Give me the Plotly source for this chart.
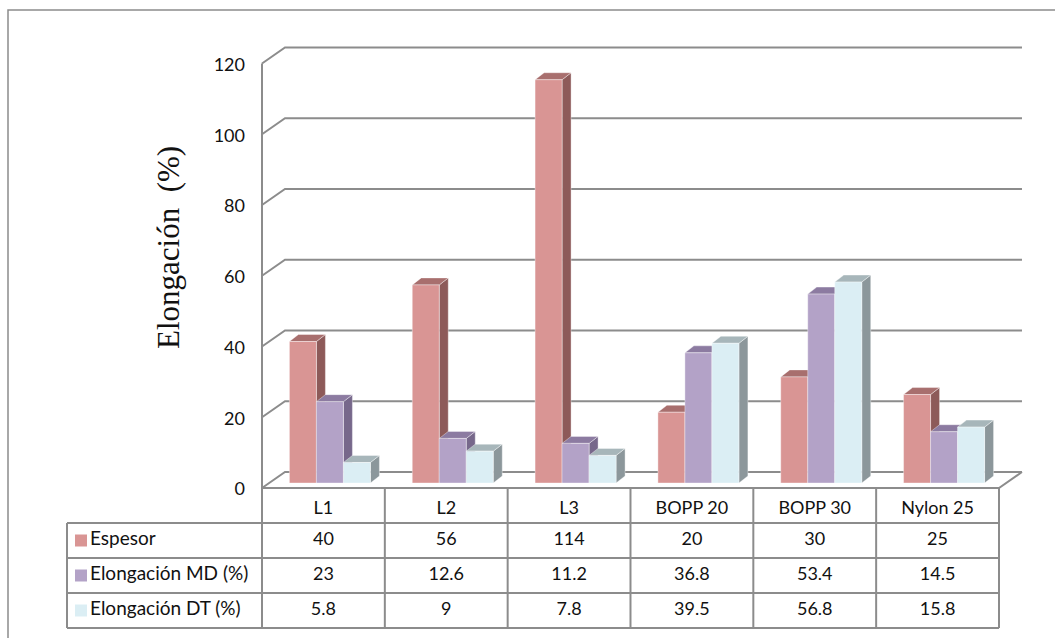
import plotly.graph_objects as go

# ---- data ----
categories = ["L1", "L2", "L3", "BOPP 20", "BOPP 30", "Nylon 25"]
espesor = [40, 56, 114, 20, 30, 25]
elong_md = [23, 12.6, 11.2, 36.8, 53.4, 14.5]
elong_dt = [5.8, 9, 7.8, 39.5, 56.8, 15.8]
series_names = ["Espesor", "Elongación MD (%)", "Elongación DT (%)"]
y_ticks = [0, 20, 40, 60, 80, 100, 120]

series_values = [espesor, elong_md, elong_dt]

# ---- styling ----
front_colors = ["#D99594", "#B3A2C7", "#DBEEF4"]
top_colors = ["#A86F6E", "#8C7BA1", "#A7B6BA"]
side_colors = ["#8D5A59", "#77688B", "#8C979B"]
grid_color = "#8C8C8C"
label_font = dict(family="Lato, 'Open Sans', sans-serif", size=18, color="#111111")
legend_font = dict(family="Lato, 'Open Sans', sans-serif", size=19, color="#111111")

W, H = 1055, 638
X0 = 262            # front-left corner of the plot box (px)
CAT_W = 122.83      # width of one category (px)
Y0 = 488            # value 0 on the front plane (px from top)
PX_UNIT = 3.5375    # px per value unit

n_cat = len(categories)
x_range = [-X0 / CAT_W, (W - X0) / CAT_W]
y_range = [-(H - Y0) / PX_UNIT, Y0 / PX_UNIT]

# projected depth of the walls and bars, in axis units
WALL_DX, WALL_DY = 23 / CAT_W, 16 / PX_UNIT
BAR_W = 27 / CAT_W
BAR_DX, BAR_DY = 9 / CAT_W, 7 / PX_UNIT
SHIFT_X, SHIFT_Y = 6.5 / CAT_W, 5 / PX_UNIT

# table rows (y2 axis, one unit per row)
ROW_H = 35
TABLE_TOP = 488
y2_range = [(H - TABLE_TOP) / ROW_H, -TABLE_TOP / ROW_H]
LEGEND_COL_X = (67 - X0) / CAT_W

fig = go.Figure()


def line_trace(xs, ys, width=2, color=grid_color, yaxis="y"):
    return go.Scatter(x=xs, y=ys, mode="lines", yaxis=yaxis,
                      line=dict(color=color, width=width),
                      hoverinfo="skip", showlegend=False)


# ---- walls: back gridlines, left side diagonals, floor ----
gx, gy = [], []
for v in y_ticks:
    gx += [0, WALL_DX, n_cat + WALL_DX, None]
    gy += [v, v + WALL_DY, v + WALL_DY, None]
gx += [0, 0, None, 0, n_cat, n_cat + WALL_DX, None]
gy += [0, y_ticks[-1], None, 0, 0, WALL_DY, None]
fig.add_trace(line_trace(gx, gy))

# ---- 3D bars ----
for k, vals in enumerate(series_values):
    fx, fy, tx, ty, sx, sy = [], [], [], [], [], []
    for i, v in enumerate(vals):
        left = i + 0.5 - 1.5 * BAR_W + k * BAR_W + SHIFT_X
        right = left + BAR_W
        base = SHIFT_Y
        top = SHIFT_Y + v
        fx += [left, right, right, left, left, None]
        fy += [base, base, top, top, base, None]
        tx += [left, left + BAR_DX, right + BAR_DX, right, left, None]
        ty += [top, top + BAR_DY, top + BAR_DY, top, top, None]
        sx += [right, right + BAR_DX, right + BAR_DX, right, right, None]
        sy += [base, base + BAR_DY, top + BAR_DY, top, base, None]
    for xs, ys, col in ((sx, sy, side_colors[k]), (tx, ty, top_colors[k]),
                        (fx, fy, front_colors[k])):
        fig.add_trace(go.Scatter(x=xs, y=ys, mode="lines", fill="toself",
                                 fillcolor=col,
                                 line=dict(color="rgba(255,255,255,0.55)", width=0.7),
                                 hoverinfo="skip", showlegend=False,
                                 name=series_names[k]))

# ---- value axis labels ----
fig.add_trace(go.Scatter(x=[(245 - X0) / CAT_W] * len(y_ticks),
                         y=[v - 0.8 for v in y_ticks],
                         mode="text", text=[str(v) for v in y_ticks],
                         textposition="middle left", textfont=label_font,
                         hoverinfo="skip", showlegend=False))

# ---- data table ----
tx_, ty_ = [], []
for r in range(1, 5):
    tx_ += [LEGEND_COL_X, n_cat, None]
    ty_ += [r, r, None]
tx_ += [LEGEND_COL_X, LEGEND_COL_X, None]
ty_ += [1, 4, None]
for c in range(n_cat + 1):
    tx_ += [c, c, None]
    ty_ += [0, 4, None]
fig.add_trace(line_trace(tx_, ty_, width=2, yaxis="y2"))

# header row: category names
fig.add_trace(go.Scatter(x=[i + 0.5 for i in range(n_cat)], y=[0.62] * n_cat,
                         yaxis="y2", mode="text", text=categories,
                         textfont=label_font, hoverinfo="skip", showlegend=False))
# value rows
for k, vals in enumerate(series_values):
    fig.add_trace(go.Scatter(x=[i + 0.5 for i in range(n_cat)], y=[k + 1.5] * n_cat,
                             yaxis="y2", mode="text",
                             text=[f"{v:g}" for v in vals],
                             textfont=label_font, hoverinfo="skip", showlegend=False))
# legend keys in the first column
fig.add_trace(go.Scatter(x=[(81 - X0) / CAT_W] * 3, y=[1.5, 2.5, 3.5], yaxis="y2",
                         mode="markers",
                         marker=dict(symbol="square", size=12, color=front_colors,
                                     line=dict(width=0)),
                         hoverinfo="skip", showlegend=False))
fig.add_trace(go.Scatter(x=[(90 - X0) / CAT_W] * 3, y=[1.5, 2.5, 3.5], yaxis="y2",
                         mode="text", text=series_names, textposition="middle right",
                         textfont=legend_font, hoverinfo="skip", showlegend=False))

# ---- layout ----
hidden = dict(visible=False, showgrid=False, zeroline=False, fixedrange=True)
fig.update_layout(
    width=W, height=H, autosize=False,
    margin=dict(l=0, r=0, t=0, b=0),
    paper_bgcolor="white", plot_bgcolor="white",
    showlegend=False,
    xaxis=dict(range=x_range, domain=[0, 1], **hidden),
    yaxis=dict(range=y_range, domain=[0, 1], **hidden),
    yaxis2=dict(range=y2_range, domain=[0, 1], overlaying="y", **hidden),
    annotations=[dict(
        text="Elongación&nbsp;&nbsp;(%)", xref="paper", yref="paper",
        x=168 / W, y=1 - 248 / H, showarrow=False, textangle=-90,
        font=dict(family="'Liberation Serif', 'Times New Roman', serif",
                  size=31, color="#111111"),
        xanchor="center", yanchor="middle")],
    shapes=[dict(type="rect", xref="paper", yref="paper",
                 x0=8 / W, x1=1.02, y0=-0.02, y1=1 - 10 / H,
                 line=dict(color="#8C8C8C", width=1.5), layer="below")],
)

fig.write_html("out.html")
